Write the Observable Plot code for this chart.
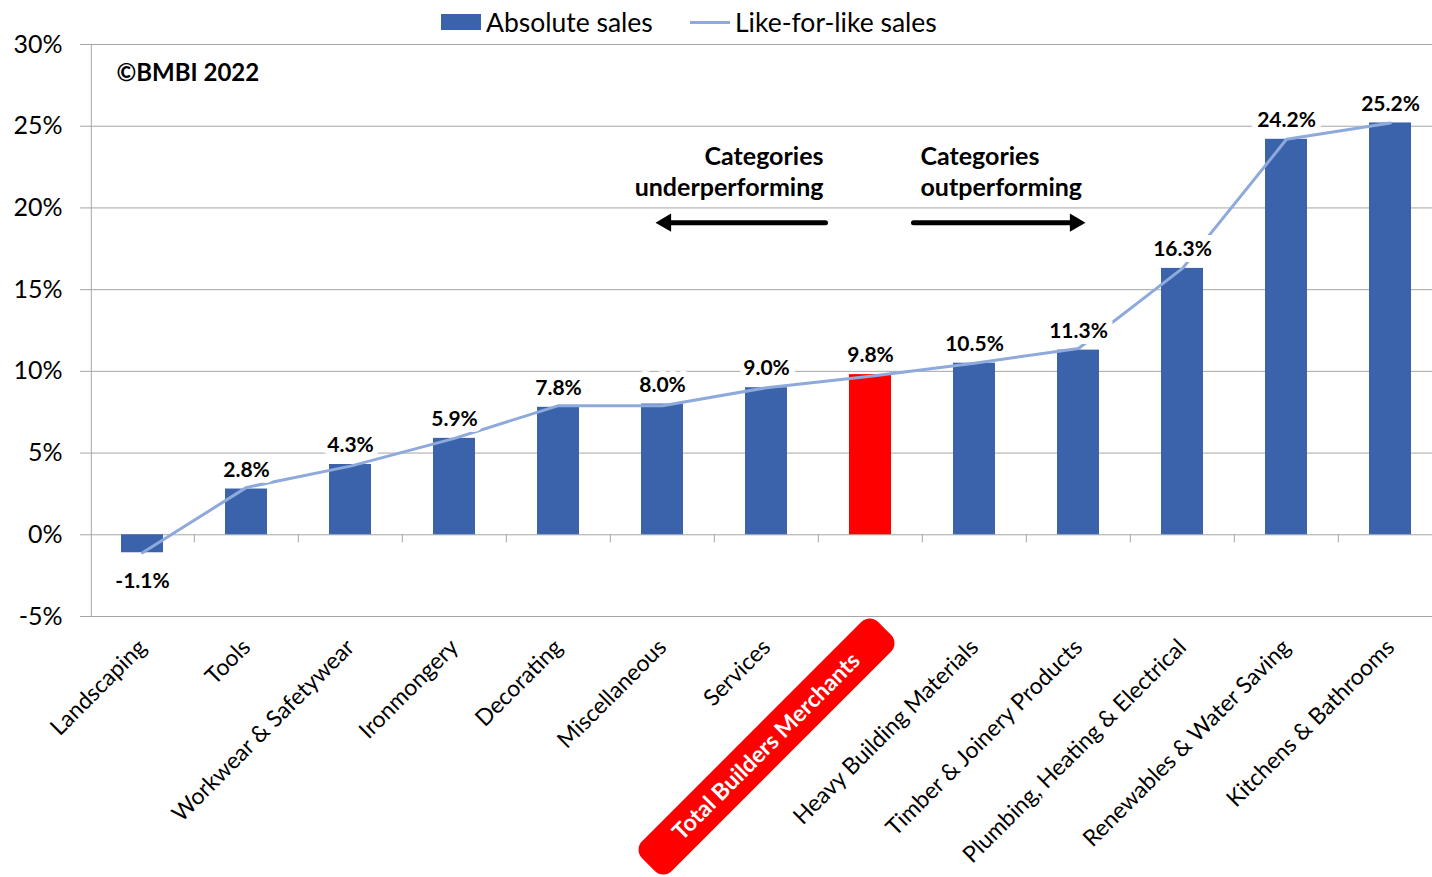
<!DOCTYPE html>
<html>
<head>
<meta charset="utf-8">
<script src="https://cdn.jsdelivr.net/npm/d3@7"></script>
<script src="https://cdn.jsdelivr.net/npm/@observablehq/plot@0.6"></script>
<style>
  html, body { margin: 0; padding: 0; background: #fff; overflow: hidden; }
  #legend { position: relative; z-index: 1; width: 1432px; height: 24px; font-family: Lato, sans-serif; font-size: 26.5px; color: #000; }
  #legend span { position: absolute; white-space: nowrap; }
</style>
</head>
<body>
<div id="legend">
  <span style="left:441px;top:14px;width:40px;height:16px;background:#3B63AC"></span>
  <span style="left:486px;top:7px;line-height:30px">Absolute sales</span>
  <span style="left:690px;top:21px;width:40px;height:3px;background:#8EAADC"></span>
  <span style="left:735px;top:7px;line-height:30px">Like-for-like sales</span>
</div>
<div id="chart"></div>
<script>
const categories = [
  "Landscaping", "Tools", "Workwear & Safetywear", "Ironmongery", "Decorating",
  "Miscellaneous", "Services", "Total Builders Merchants", "Heavy Building Materials",
  "Timber & Joinery Products", "Plumbing, Heating & Electrical",
  "Renewables & Water Saving", "Kitchens & Bathrooms"
];
const absoluteSales = [-1.1, 2.8, 4.3, 5.9, 7.8, 8.0, 9.0, 9.8, 10.5, 11.3, 16.3, 24.2, 25.2];
const likeForLikeSales = [-1.1, 2.9, 4.2, 5.9, 7.9, 7.9, 9.0, 9.7, 10.5, 11.4, 16.3, 24.2, 25.2];
const yTicks = [-5, 0, 5, 10, 15, 20, 25, 30];
const highlight = "Total Builders Merchants";
const copyright = "©BMBI 2022";
const noteLeft = "Categories\nunderperforming";
const noteRight = "Categories\noutperforming";

const data = categories.map((c, i) => ({cat: c, abs: absoluteSales[i], lfl: likeForLikeSales[i]}));

const BLUE = "#3B63AC", RED = "#FF0000", LINE = "#8EAADC", GRID = "#A6A6A6";
const W = 1432, H = 853, ML = 88, MT = 20, MB = 261;
const X0 = 87, X1 = 1444;
const STEP = (X1 - X0) / categories.length;
const NOTE_Y = 22.3, ARROW_Y = 19.1;

const chart = Plot.plot({
  width: W, height: H,
  marginTop: MT, marginBottom: MB, marginLeft: ML, marginRight: 0,
  style: {fontFamily: "Lato, sans-serif", color: "#000", background: "transparent", overflow: "visible"},
  x: {domain: categories, range: [X0, X1], paddingInner: 0.6, paddingOuter: 0.3, axis: null},
  y: {domain: [-5, 30], axis: null},
  color: {type: "identity"},
  marks: [
    Plot.ruleY(yTicks, {stroke: GRID, strokeWidth: 1, insetLeft: -8}),
    Plot.ruleX([categories[0]], {y1: -5, y2: 30, dx: -STEP / 2 + 1, stroke: GRID}),
    Plot.ruleX(categories.slice(1), {y1: 0, y2: -0.5, dx: -STEP / 2, stroke: GRID}),
    Plot.text(yTicks, {y: d => d, text: d => d + "%", frameAnchor: "left", dx: -26, textAnchor: "end", fontSize: 25, fill: "#000"}),
    Plot.barY(data, {x: "cat", y: "abs", fill: d => d.cat === highlight ? RED : BLUE}),
    Plot.line(data, {x: "cat", y: "lfl", stroke: LINE, strokeWidth: 3}),
    Plot.text(data.filter(d => d.abs >= 0), {x: "cat", y: "abs", text: d => d.abs.toFixed(1) + "%", dy: -19,
      fontWeight: "bold", fontSize: 21, fill: "#000", stroke: "white", strokeWidth: 12, paintOrder: "stroke"}),
    Plot.text(data.filter(d => d.abs < 0), {x: "cat", y: "abs", text: d => d.abs.toFixed(1) + "%", dy: 29,
      fontWeight: "bold", fontSize: 21, fill: "#000", stroke: "white", strokeWidth: 12, paintOrder: "stroke"}),
    Plot.text([copyright], {frameAnchor: "top-left", dx: 28, dy: 29, lineAnchor: "middle", textAnchor: "start",
      fontWeight: "bold", fontSize: 24, fill: "#000"}),
    Plot.text([noteLeft], {x: () => highlight, y: () => NOTE_Y, dx: -47, textAnchor: "end", lineAnchor: "middle",
      lineHeight: 1.24, fontWeight: "bold", fontSize: 25, fill: "#000"}),
    Plot.text([noteRight], {x: () => highlight, y: () => NOTE_Y, dx: 50, textAnchor: "start", lineAnchor: "middle",
      lineHeight: 1.24, fontWeight: "bold", fontSize: 25, fill: "#000"}),
    Plot.arrow([0], {x1: () => highlight, x2: () => "Miscellaneous", y1: () => ARROW_Y, y2: () => ARROW_Y,
      insetStart: 45, insetEnd: 8, headLength: 0, stroke: "#000", strokeWidth: 5}),
    Plot.dot([0], {x: () => "Miscellaneous", y: () => ARROW_Y, dx: 3.4, symbol: "triangle", rotate: -90, r: 6.7, fill: "#000", stroke: "none"}),
    Plot.arrow([0], {x1: () => highlight, x2: () => "Timber & Joinery Products", y1: () => ARROW_Y, y2: () => ARROW_Y,
      insetStart: 43, insetEnd: 8, headLength: 0, stroke: "#000", strokeWidth: 5}),
    Plot.dot([0], {x: () => "Timber & Joinery Products", y: () => ARROW_Y, dx: -3.4, symbol: "triangle", rotate: 90, r: 6.7, fill: "#000", stroke: "none"}),
    Plot.text(categories.filter(c => c !== highlight), {x: d => d, y: () => -5, text: d => d, rotate: -45,
      textAnchor: "end", lineAnchor: "middle", dx: 0, dy: 27, fontSize: 23, fill: "#000"}),
    Plot.text([highlight], {x: d => d, y: () => -5, text: d => d, rotate: -45,
      textAnchor: "middle", lineAnchor: "middle", dx: -104, dy: 130, fontSize: 23, fontWeight: "bold", fill: "#fff"})
  ]
});

// red rounded box behind the highlighted category label
chart.querySelectorAll("text").forEach(t => {
  if (t.textContent === highlight && t.getAttribute("fill") !== "#000") {
    const r = document.createElementNS("http://www.w3.org/2000/svg", "rect");
    const L = 334, T = 42;
    r.setAttribute("transform", t.getAttribute("transform") || "");
    r.setAttribute("x", -L / 2); r.setAttribute("y", -T / 2);
    r.setAttribute("width", L); r.setAttribute("height", T);
    r.setAttribute("rx", 12); r.setAttribute("fill", RED);
    t.parentNode.insertBefore(r, t);
  }
});

document.getElementById("chart").appendChild(chart);
</script>
</body>
</html>
